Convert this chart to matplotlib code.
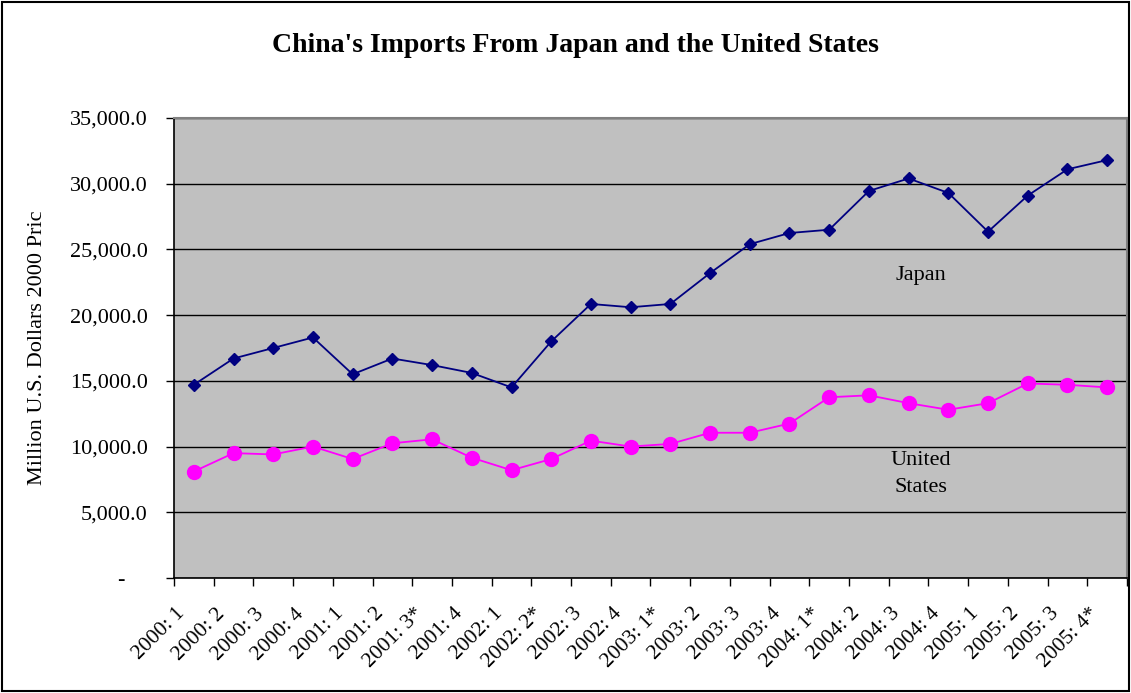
import matplotlib.pyplot as plt
from matplotlib.patches import Rectangle
from matplotlib.ticker import FuncFormatter
from matplotlib.transforms import ScaledTranslation

quarters = ['2000: 1', '2000: 2', '2000: 3', '2000: 4', '2001: 1', '2001: 2',
            '2001: 3*', '2001: 4', '2002: 1', '2002: 2*', '2002: 3', '2002: 4',
            '2003: 1*', '2003: 2', '2003: 3', '2003: 4', '2004: 1*', '2004: 2',
            '2004: 3', '2004: 4', '2005: 1', '2005: 2', '2005: 3', '2005: 4*']

japan = [14700, 16700, 17500, 18300, 15500, 16700, 16200, 15600, 14500, 18000,
         20850, 20600, 20850, 23200, 25400, 26250, 26500, 29450, 30400, 29300,
         26350, 29100, 31100, 31800]

united_states = [8100, 9500, 9400, 10000, 9050, 10250, 10550, 9150, 8200, 9050,
                 10450, 10000, 10200, 11050, 11050, 11750, 13750, 13900, 13300, 12800,
                 13300, 14800, 14700, 14500]

plt.rcParams['font.family'] = 'Liberation Serif'

fig = plt.figure(figsize=(11.31, 6.93), dpi=100)
ax = fig.add_axes([0.1538, 0.166, 0.8427, 0.6637])
ax.set_facecolor('#C0C0C0')

x = list(range(len(quarters)))
ax.plot(x, japan, color='#000080', marker='D', markersize=6.5, linewidth=1.3, zorder=3)
ax.plot(x, united_states, color='#FF00FF', marker='o', markersize=10, linewidth=1.3, zorder=3)

ax.set_xlim(-0.5, len(quarters) - 0.5)
ax.set_ylim(0, 35000)
ax.set_yticks(range(0, 35001, 5000))
ax.yaxis.set_major_formatter(FuncFormatter(lambda v, p: '-    ' if v == 0 else '{:,.1f}'.format(v)))
ax.grid(axis='y', color='black', linewidth=1)
ax.set_axisbelow(True)

# category ticks sit between the points, labels under each point
ax.set_xticks([i - 0.5 for i in range(len(quarters) + 1)], minor=False)
ax.set_xticklabels([])
ax.set_xticks(x, minor=True)
ax.set_xticklabels(quarters, minor=True, rotation=45, ha='right', va='top')
ax.tick_params(axis='x', which='minor', length=0, pad=19, labelsize=15.5)
ax.tick_params(axis='x', which='major', length=6, width=1, direction='out')
ax.tick_params(axis='y', length=6, width=1, direction='out', labelsize=16, pad=13)
shift = ScaledTranslation(-5 / 100, 0, fig.dpi_scale_trans)
for lbl in ax.get_xticklabels(minor=True):
    lbl.set_transform(lbl.get_transform() + shift)

for s in ['top', 'right']:
    ax.spines[s].set_color('#808080')
    ax.spines[s].set_linewidth(1.5)
for s in ['left', 'bottom']:
    ax.spines[s].set_color('black')
    ax.spines[s].set_linewidth(1.2)

ax.set_ylabel('Million U.S. Dollars 2000 Pric', fontsize=16)
ax.yaxis.set_label_coords(-0.133, 0.5)

ax.text(18.3, 23000, 'Japan', fontsize=16, ha='center', va='center')
ax.text(18.3, 7900, 'United\nStates', fontsize=16, ha='center', va='center', linespacing=1.55)

fig.text(0.509, 0.934, "China's Imports From Japan and the United States",
         fontsize=20, fontweight='bold', ha='center', va='center')

fig.patches.append(Rectangle((0.002, 0.003), 0.996, 0.994, transform=fig.transFigure,
                             fill=False, edgecolor='black', linewidth=1.5))

fig.savefig('out.png', dpi=100)
